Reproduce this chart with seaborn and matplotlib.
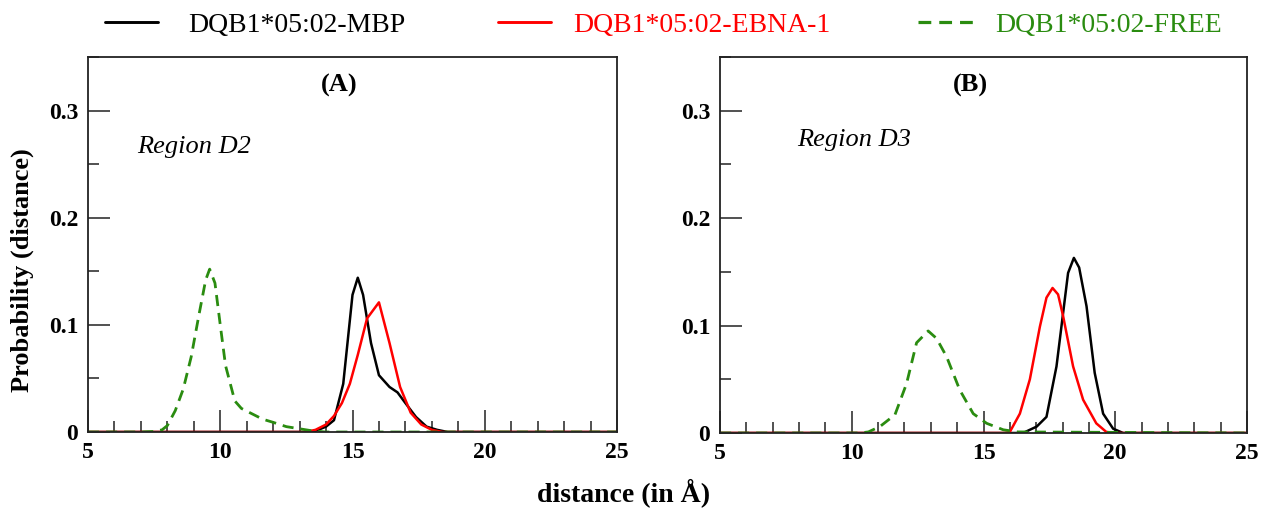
import numpy as np
import pandas as pd
import matplotlib
matplotlib.use("Agg")
import matplotlib.pyplot as plt
from matplotlib.lines import Line2D
from matplotlib.ticker import MultipleLocator
import seaborn as sns

# ---------------- data ----------------
series_names = ["DQB1*05:02-MBP", "DQB1*05:02-EBNA-1", "DQB1*05:02-FREE"]
panel_titles = ["(A)", "(B)"]
region_labels = ["Region D2", "Region D3"]
x_ticks = [5, 10, 15, 20, 25]
y_ticks = [0, 0.1, 0.2, 0.3]
y_tick_labels = ["0", "0.1", "0.2", "0.3"]

# Panel A (Region D2)
a_mbp_x = [5, 13.5, 14.0, 14.3, 14.65, 15.0, 15.2, 15.4, 15.7, 16.0, 16.4, 16.7, 17.0, 17.4, 17.8, 18.2, 18.6, 25]
a_mbp_y = [0, 0, 0.005, 0.011, 0.045, 0.128, 0.144, 0.128, 0.083, 0.053, 0.042, 0.037, 0.027, 0.014, 0.005, 0.002, 0, 0]
a_ebna_x = [5, 13.2, 13.6, 14.0, 14.3, 14.6, 14.9, 15.2, 15.55, 16.0, 16.4, 16.8, 17.2, 17.6, 18.0, 18.4, 25]
a_ebna_y = [0, 0, 0.002, 0.007, 0.015, 0.027, 0.045, 0.072, 0.106, 0.121, 0.083, 0.042, 0.018, 0.007, 0.002, 0, 0]
a_free_x = [5, 7.0, 7.5, 7.8, 8.0, 8.3, 8.6, 8.9, 9.2, 9.45, 9.6, 9.8, 10.0, 10.2, 10.55, 10.8, 11.2, 11.6, 12.0, 12.5, 13.0, 13.5, 14.0, 25]
a_free_y = [0, 0, 0.0005, 0.002, 0.006, 0.02, 0.04, 0.07, 0.11, 0.142, 0.152, 0.139, 0.10, 0.062, 0.029, 0.022, 0.017, 0.012, 0.009, 0.005, 0.003, 0.001, 0, 0]

# Panel B (Region D3)
b_mbp_x = [5, 16.5, 17.02, 17.39, 17.77, 18.21, 18.43, 18.63, 18.91, 19.22, 19.54, 19.92, 20.3, 25]
b_mbp_y = [0, 0, 0.006, 0.015, 0.062, 0.149, 0.163, 0.154, 0.118, 0.056, 0.018, 0.004, 0, 0]
b_ebna_x = [5, 15.8, 16.0, 16.38, 16.76, 17.14, 17.39, 17.62, 17.83, 18.02, 18.40, 18.78, 19.28, 19.66, 20.0, 25]
b_ebna_y = [0, 0, 0.001, 0.018, 0.050, 0.099, 0.126, 0.135, 0.129, 0.109, 0.062, 0.031, 0.009, 0.001, 0, 0]
b_free_x = [5, 10.3, 10.63, 11.07, 11.64, 12.08, 12.46, 12.9, 13.22, 13.6, 14.1, 14.61, 15.12, 15.75, 16.3, 25]
b_free_y = [0, 0, 0.001, 0.006, 0.017, 0.046, 0.084, 0.095, 0.088, 0.071, 0.040, 0.018, 0.009, 0.003, 0.001, 0]

# ---------------- style ----------------
sns.set_theme(style="white")
plt.rcParams["font.family"] = ["Liberation Serif", "DejaVu Serif"]
plt.rcParams["text.color"] = "black"
plt.rcParams["xtick.color"] = "black"
plt.rcParams["ytick.color"] = "black"

colors = ["#000000", "#ff0000", "#2a8c10"]
lws = [1.8, 1.8, 2.0]
lstyles = ["-", "-", (0, (4, 2.5))]

fig = plt.figure(figsize=(12.67, 5.12), dpi=100)
axA = fig.add_axes([88 / 1267, 1 - 432 / 512, (617 - 88) / 1267, (432 - 57) / 512])
axB = fig.add_axes([720 / 1267, 1 - 433 / 512, (1247 - 720) / 1267, (433 - 57) / 512])

panels = [
    (axA, [(a_mbp_x, a_mbp_y), (a_ebna_x, a_ebna_y), (a_free_x, a_free_y)]),
    (axB, [(b_mbp_x, b_mbp_y), (b_ebna_x, b_ebna_y), (b_free_x, b_free_y)]),
]

for i, (ax, data) in enumerate(panels):
    for j, (xs, ys) in enumerate(data):
        df = pd.DataFrame({"distance": xs, "prob": ys})
        sns.lineplot(data=df, x="distance", y="prob", ax=ax, color=colors[j],
                     linewidth=lws[j], linestyle=lstyles[j], legend=False,
                     estimator=None, sort=True)
    ax.set_xlim(5, 25)
    ax.set_ylim(0, 0.35)
    ax.set_xticks(x_ticks)
    ax.set_xticklabels([str(t) for t in x_ticks])
    ax.set_yticks(y_ticks)
    ax.set_yticklabels(y_tick_labels)
    ax.xaxis.set_minor_locator(MultipleLocator(1))
    ax.yaxis.set_minor_locator(MultipleLocator(0.05))
    ax.tick_params(axis="both", which="major", direction="in", length=16, width=1.1,
                   color="#222222", labelsize=17, pad=7, top=False, right=False,
                   bottom=True, left=True, labelcolor="black")
    ax.tick_params(axis="both", which="minor", direction="in", length=8, width=1.1,
                   color="#222222", top=False, right=False, bottom=True, left=True)
    for lab in ax.get_xticklabels() + ax.get_yticklabels():
        lab.set_fontweight("bold")
    for sp in ax.spines.values():
        sp.set_linewidth(1.3)
        sp.set_color("#222222")
    ax.set_xlabel("")
    ax.set_ylabel("")
    ax.text(0.475, 0.925, panel_titles[i], transform=ax.transAxes, ha="center",
            va="center", fontsize=19, fontweight="bold", color="black")

fig.text(137 / 1267, 1 - 147 / 512, region_labels[0], ha="left", va="center",
         fontsize=19, style="italic", color="black")
fig.text(797 / 1267, 1 - 140 / 512, region_labels[1], ha="left", va="center",
         fontsize=19, style="italic", color="black")

fig.text(22 / 1267, 1 - 270 / 512, "Probability (distance)", rotation=90,
         ha="center", va="center", fontsize=19, fontweight="bold", color="black")
fig.text(624 / 1267, 1 - 493 / 512, "distance (in Å)", ha="center", va="center",
         fontsize=20, fontweight="bold", color="black")

# legend entries, one per series, placed along the top
leg_x = [105, 498, 918]
leg_hl = [1.9, 1.9, 2.05]
leg_pad = [1.08, 0.8, 0.72]
for k in range(3):
    h = Line2D([], [], color=colors[k], lw=lws[k] + 0.3, linestyle=lstyles[k])
    leg = fig.legend([h], [series_names[k]], loc="center left",
                     bbox_to_anchor=(leg_x[k] / 1267, 1 - 25 / 512),
                     frameon=False, fontsize=20, handlelength=leg_hl[k],
                     handletextpad=leg_pad[k], borderpad=0, borderaxespad=0)
    leg.get_texts()[0].set_color(colors[k])

fig.savefig("out.png", dpi=100)
